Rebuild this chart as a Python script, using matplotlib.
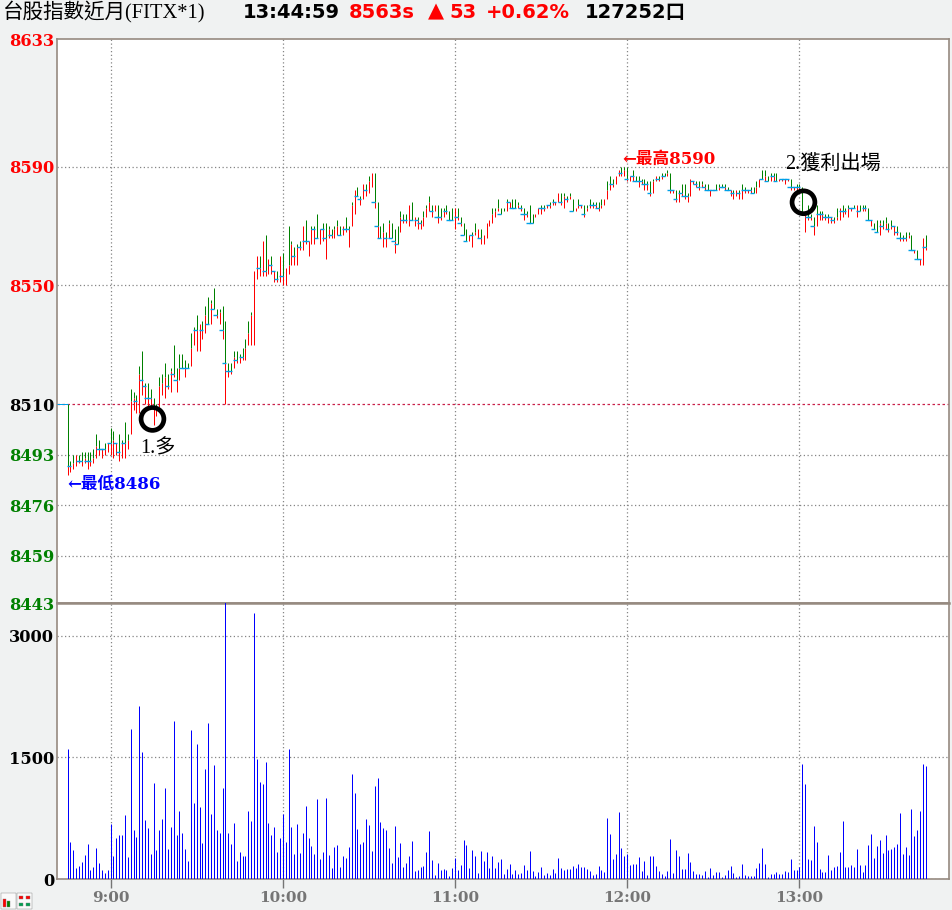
"""Taiwan index futures one-minute chart with volume panel."""

import matplotlib
matplotlib.use("Agg")
import matplotlib.pyplot as plt
from matplotlib.patches import Rectangle
import numpy as np

highs = [
    8510, 8491, 8493, 8493, 8493, 8494, 8494, 8494, 8494, 8495,
    8500, 8498, 8495, 8497, 8497, 8502, 8501, 8497, 8500, 8498,
    8504, 8500, 8515, 8514, 8513, 8523, 8528, 8517, 8517, 8515,
    8512, 8510, 8519, 8520, 8524, 8520, 8522, 8530, 8522, 8527,
    8527, 8525, 8524, 8534, 8536, 8540, 8537, 8538, 8543, 8546,
    8545, 8549, 8542, 8542, 8543, 8538, 8524, 8524, 8528, 8528,
    8527, 8529, 8532, 8538, 8541, 8555, 8560, 8560, 8565, 8567,
    8559, 8560, 8555, 8555, 8560, 8561, 8556, 8570, 8565, 8563,
    8564, 8565, 8570, 8572, 8565, 8570, 8570, 8574, 8569, 8571,
    8571, 8570, 8569, 8570, 8572, 8570, 8570, 8573, 8570, 8578,
    8582, 8583, 8580, 8584, 8584, 8587, 8588, 8588, 8578, 8570,
    8571, 8568, 8572, 8571, 8569, 8570, 8575, 8574, 8574, 8577,
    8578, 8573, 8573, 8572, 8575, 8577, 8580, 8577, 8577, 8577,
    8576, 8576, 8577, 8575, 8576, 8576, 8576, 8573, 8571, 8569,
    8567, 8568, 8571, 8569, 8569, 8567, 8571, 8572, 8576, 8576,
    8579, 8576, 8576, 8579, 8578, 8579, 8579, 8578, 8577, 8576,
    8575, 8577, 8574, 8574, 8576, 8577, 8577, 8577, 8578, 8579,
    8578, 8581, 8581, 8581, 8580, 8581, 8579, 8576, 8579, 8577,
    8577, 8577, 8579, 8578, 8578, 8578, 8579, 8579, 8585, 8587,
    8586, 8587, 8589, 8590, 8590, 8590, 8587, 8589, 8587, 8587,
    8586, 8586, 8585, 8585, 8586, 8587, 8587, 8588, 8588, 8589,
    8588, 8582, 8582, 8582, 8584, 8584, 8581, 8586, 8585, 8585,
    8585, 8585, 8584, 8584, 8582, 8582, 8584, 8584, 8584, 8584,
    8583, 8582, 8582, 8582, 8582, 8584, 8583, 8582, 8583, 8583,
    8585, 8586, 8589, 8589, 8587, 8588, 8588, 8588, 8586, 8586,
    8586, 8586, 8586, 8583, 8584, 8584, 8583, 8574, 8577, 8574,
    8573, 8577, 8575, 8575, 8574, 8574, 8573, 8573, 8576, 8576,
    8577, 8576, 8577, 8576, 8577, 8577, 8577, 8577, 8577, 8576,
    8572, 8571, 8572, 8572, 8572, 8573, 8571, 8572, 8570, 8570,
    8568, 8567, 8568, 8568, 8567, 8562, 8562, 8559, 8566, 8567,
]
pivots = [
    8489, 8489, 8490, 8493, 8491, 8491, 8492, 8491, 8491, 8492,
    8496, 8495, 8495, 8495, 8497, 8497, 8498, 8497, 8494, 8497,
    8497, 8498, 8511, 8512, 8511, 8520, 8518, 8516, 8512, 8512,
    8509, 8509, 8516, 8517, 8519, 8516, 8521, 8520, 8518, 8522,
    8522, 8522, 8522, 8529, 8535, 8535, 8537, 8535, 8540, 8537,
    8544, 8542, 8540, 8541, 8535, 8524, 8521, 8521, 8526, 8525,
    8526, 8526, 8529, 8534, 8540, 8555, 8560, 8556, 8565, 8555,
    8559, 8557, 8555, 8552, 8560, 8553, 8556, 8557, 8564, 8560,
    8563, 8563, 8570, 8565, 8565, 8569, 8569, 8566, 8569, 8569,
    8566, 8569, 8567, 8569, 8570, 8567, 8570, 8569, 8569, 8577,
    8582, 8580, 8579, 8584, 8582, 8585, 8588, 8578, 8570, 8566,
    8568, 8566, 8571, 8566, 8565, 8564, 8573, 8572, 8572, 8577,
    8572, 8573, 8572, 8571, 8573, 8576, 8578, 8575, 8577, 8573,
    8573, 8575, 8575, 8572, 8572, 8576, 8573, 8571, 8567, 8565,
    8567, 8567, 8568, 8569, 8566, 8567, 8571, 8572, 8574, 8575,
    8576, 8574, 8575, 8578, 8578, 8576, 8576, 8577, 8576, 8574,
    8574, 8571, 8571, 8574, 8576, 8576, 8576, 8577, 8577, 8578,
    8578, 8581, 8578, 8580, 8579, 8580, 8575, 8576, 8577, 8577,
    8574, 8576, 8577, 8577, 8577, 8576, 8577, 8579, 8582, 8584,
    8584, 8587, 8589, 8588, 8589, 8586, 8587, 8587, 8585, 8585,
    8585, 8584, 8584, 8581, 8585, 8587, 8586, 8587, 8587, 8588,
    8582, 8582, 8579, 8581, 8581, 8580, 8580, 8586, 8585, 8584,
    8583, 8584, 8583, 8582, 8582, 8582, 8582, 8583, 8583, 8583,
    8582, 8582, 8581, 8582, 8581, 8582, 8582, 8582, 8582, 8581,
    8583, 8586, 8586, 8587, 8585, 8587, 8587, 8585, 8586, 8586,
    8586, 8586, 8583, 8583, 8583, 8583, 8574, 8574, 8573, 8573,
    8570, 8574, 8574, 8574, 8573, 8573, 8573, 8572, 8573, 8576,
    8575, 8575, 8576, 8576, 8576, 8577, 8575, 8576, 8576, 8572,
    8572, 8569, 8568, 8571, 8570, 8571, 8569, 8570, 8570, 8568,
    8566, 8566, 8566, 8567, 8562, 8562, 8559, 8559, 8566, 8563,
]
lows = [
    8486, 8487, 8488, 8489, 8490, 8489, 8490, 8488, 8489, 8490,
    8492, 8493, 8492, 8493, 8494, 8493, 8492, 8493, 8491, 8492,
    8492, 8495, 8500, 8508, 8507, 8507, 8513, 8510, 8509, 8509,
    8503, 8506, 8509, 8513, 8512, 8515, 8514, 8519, 8514, 8518,
    8522, 8519, 8522, 8523, 8530, 8528, 8528, 8532, 8534, 8537,
    8537, 8542, 8539, 8537, 8532, 8510, 8519, 8520, 8522, 8524,
    8524, 8525, 8525, 8530, 8530, 8530, 8552, 8553, 8553, 8553,
    8554, 8554, 8551, 8551, 8551, 8550, 8550, 8554, 8557, 8557,
    8557, 8562, 8562, 8564, 8560, 8564, 8564, 8566, 8564, 8565,
    8559, 8566, 8566, 8566, 8567, 8567, 8567, 8568, 8563, 8570,
    8574, 8580, 8577, 8579, 8580, 8581, 8583, 8576, 8566, 8566,
    8563, 8563, 8566, 8566, 8561, 8564, 8568, 8571, 8571, 8570,
    8572, 8570, 8569, 8569, 8570, 8573, 8575, 8573, 8575, 8571,
    8572, 8573, 8574, 8572, 8572, 8569, 8572, 8570, 8567, 8565,
    8565, 8563, 8567, 8566, 8564, 8564, 8566, 8570, 8571, 8573,
    8575, 8574, 8575, 8575, 8576, 8576, 8578, 8576, 8575, 8572,
    8573, 8571, 8571, 8573, 8574, 8574, 8575, 8576, 8576, 8577,
    8577, 8578, 8577, 8576, 8578, 8579, 8575, 8575, 8576, 8576,
    8573, 8575, 8576, 8576, 8576, 8575, 8576, 8577, 8579, 8582,
    8583, 8584, 8587, 8587, 8587, 8585, 8585, 8585, 8585, 8583,
    8584, 8582, 8582, 8580, 8581, 8585, 8585, 8586, 8587, 8587,
    8581, 8581, 8578, 8578, 8580, 8579, 8578, 8580, 8584, 8583,
    8582, 8583, 8582, 8582, 8580, 8582, 8582, 8582, 8583, 8582,
    8582, 8580, 8579, 8580, 8579, 8579, 8581, 8581, 8581, 8581,
    8581, 8583, 8586, 8585, 8585, 8585, 8585, 8585, 8585, 8585,
    8584, 8585, 8582, 8582, 8582, 8582, 8574, 8568, 8572, 8572,
    8567, 8570, 8572, 8572, 8572, 8571, 8571, 8571, 8572, 8572,
    8573, 8574, 8573, 8575, 8576, 8573, 8575, 8575, 8575, 8572,
    8570, 8569, 8568, 8567, 8569, 8569, 8568, 8569, 8567, 8567,
    8565, 8565, 8565, 8566, 8562, 8561, 8559, 8557, 8557, 8562,
]
volumes = [
    1602, 462, 363, 140, 165, 215, 300, 438, 116, 153,
    388, 202, 116, 78, 116, 673, 289, 512, 537, 549,
    785, 277, 1850, 611, 524, 2135, 1565, 723, 624, 314,
    1181, 363, 611, 735, 1119, 376, 648, 1949, 549, 834,
    562, 376, 227, 1838, 933, 1664, 884, 450, 1355, 1925,
    797, 1404, 599, 562, 1119, 3424, 562, 438, 686, 227,
    339, 289, 289, 834, 710, 3287, 1478, 1194, 1169, 1441,
    686, 537, 636, 339, 512, 797, 462, 1602, 648, 314,
    673, 326, 562, 896, 500, 413, 314, 983, 252, 335,
    994, 298, 137, 397, 422, 149, 286, 261, 397, 1292,
    1056, 621, 435, 460, 745, 671, 348, 1143, 1242, 708,
    634, 609, 385, 199, 658, 273, 447, 149, 199, 286,
    472, 99, 112, 149, 161, 335, 596, 236, 50, 199,
    112, 124, 112, 37, 137, 261, 112, 174, 484, 422,
    137, 360, 286, 75, 348, 224, 335, 137, 286, 137,
    211, 248, 62, 124, 186, 62, 112, 62, 75, 174,
    112, 348, 99, 37, 87, 149, 50, 75, 50, 124,
    75, 261, 137, 112, 124, 124, 161, 137, 186, 149,
    149, 124, 99, 50, 62, 161, 112, 87, 758, 559,
    248, 310, 832, 385, 286, 310, 174, 186, 186, 273,
    99, 224, 50, 286, 286, 161, 99, 62, 37, 99,
    497, 75, 360, 286, 124, 124, 323, 211, 99, 62,
    62, 50, 99, 25, 137, 50, 87, 87, 25, 50,
    112, 161, 75, 25, 37, 186, 50, 37, 37, 37,
    137, 199, 385, 186, 25, 62, 62, 87, 62, 62,
    99, 87, 248, 112, 112, 149, 1416, 1167, 248, 236,
    658, 460, 124, 87, 87, 298, 112, 149, 161, 335,
    720, 149, 149, 174, 149, 372, 174, 87, 174, 422,
    559, 261, 410, 484, 323, 546, 360, 372, 397, 435,
    820, 310, 397, 298, 869, 534, 609, 845, 1416, 1391,
]
price_ticks = [8633, 8590, 8550, 8510, 8493, 8476, 8459, 8443]
price_tick_colors = ["#ff0000", "#ff0000", "#ff0000", "#000000", "#008000", "#008000", "#008000", "#008000"]
volume_ticks = [0, 1500, 3000]
hour_ticks = [15, 75, 135, 195, 255]
hour_labels = ["9:00", "10:00", "11:00", "12:00", "13:00"]
trade_entry = (29.6, 8505)
trade_exit = (256.4, 8578)

W, H = 953, 910
BG = "#f0f2f2"
EDGE = "#968a80"
GRID = "#858585"
BAR_LW = 0.72
SERIF_BOLD = dict(family=["DejaVu Serif", "Noto Sans CJK TC"], weight="bold")
LABEL_FONT = ["Liberation Serif", "Noto Sans CJK TC"]


def panel(fig, left, top, right, bottom):
    return fig.add_axes([left / W, 1 - bottom / H, (right - left) / W, (bottom - top) / H])


def put(fig, x, y, text, **kw):
    # x, y are in picture pixels, text is anchored left-centre
    fig.text(x / W, 1 - y / H, text, ha="left", va="center", **kw)


def style_axis(ax, ticks, labels, colors):
    ax.set_xlim(-3.66, 307.1)
    ax.set_xticks(hour_ticks)
    ax.set_yticks(ticks)
    ax.set_yticklabels(labels, fontsize=11.7, va="center_baseline", **SERIF_BOLD)
    for lab, col in zip(ax.get_yticklabels(), colors):
        lab.set_color(col)
    ax.tick_params(axis="y", length=0, pad=2)
    ax.grid(True, color=GRID, linestyle=(0, (1, 2)), linewidth=0.9)
    ax.set_axisbelow(True)
    for spine in ax.spines.values():
        spine.set_color(EDGE)
        spine.set_linewidth(1.2)


def crisp(coll):
    coll.set_snap(True)
    return coll


def main() -> None:
    fig = plt.figure(figsize=(W / 100, H / 100), dpi=100, facecolor=BG)
    idx = np.arange(len(highs))
    hi, pv, lo = np.array(highs), np.array(pivots), np.array(lows)

    ax = panel(fig, 57, 39, 949, 603)
    ax.set_ylim(8443, 8633)
    style_axis(ax, price_ticks, [str(v) for v in price_ticks], price_tick_colors)
    ax.tick_params(axis="x", length=0, labelbottom=False)
    for tick, line in zip(price_ticks, ax.get_ygridlines()):
        if tick in (8633, 8443):
            line.set_visible(False)
        if tick == 8510:
            line.set_color("#c8204a")
            line.set_linestyle((0, (2, 2)))

    crisp(ax.vlines(idx, lo, pv, color="#ff0000", linewidth=BAR_LW, zorder=3))
    crisp(ax.vlines(idx, pv, hi, color="#008000", linewidth=BAR_LW, zorder=3))
    # close ticks: cyan on the left of a bar whose pivot did not rise
    falling = np.r_[False, pv[1:] <= pv[:-1]]
    ax.plot(idx[falling] - 0.5, pv[falling], linestyle="none", marker="_", markersize=3.2,
            markeredgewidth=1.0, color="#00a0e8", zorder=4)
    crisp(ax.hlines(8510, -3.66, 0, color="#00a0e8", linewidth=BAR_LW, zorder=4))

    for x, y in (trade_entry, trade_exit):
        ax.scatter([x], [y], s=270, facecolors="none", edgecolors="black", linewidths=3.4, zorder=6)

    vol = panel(fig, 57, 603, 949, 879)
    vol.set_ylim(0, 3407)
    style_axis(vol, volume_ticks, [str(v) for v in volume_ticks], ["black"] * 3)
    crisp(vol.vlines(idx, 0, volumes, color="#0000ff", linewidth=BAR_LW, zorder=3))
    vol.set_xticklabels(hour_labels, fontsize=11, color="#757575", **SERIF_BOLD)
    vol.tick_params(axis="x", length=6.5, width=1, color="#757575", pad=2)
    vol.spines["top"].set_linewidth(1.8)

    put(fig, 3, 12, "台股指數近月(FITX*1)", fontsize=14.8, family=LABEL_FONT)
    head = dict(fontsize=14, weight="bold", family=["DejaVu Sans", "Noto Sans CJK TC"])
    put(fig, 243, 12, "13:44:59", color="black", **head)
    put(fig, 349, 12, "8563s", color="#ff0000", **head)
    put(fig, 428, 11, "▲", color="#ff0000", fontsize=15, weight="bold")
    put(fig, 449, 12, "53", color="#ff0000", **head)
    put(fig, 486, 12, "+0.62%", color="#ff0000", **head)
    put(fig, 585, 12, "127252口", color="black", **head)

    put(fig, 622, 159, "←最高8590", color="#ff0000", fontsize=12, **SERIF_BOLD)
    put(fig, 67, 485, "←最低8486", color="#0000ff", fontsize=12, **SERIF_BOLD)
    put(fig, 140, 449, "1.多", color="black", fontsize=14.5, family=LABEL_FONT)
    put(fig, 785, 165, "2.獲利出場", color="black", fontsize=14.5, family=LABEL_FONT)

    # toolbar icon in the bottom left corner
    icon = [(1, 893, 15, 16, "#fafafa"), (17, 893, 15, 16, "#fafafa"), (3, 899, 3, 8, "#ff0000"),
            (7, 901, 3, 6, "#008000"), (19, 896, 4, 3, "#ff0000"), (26, 896, 4, 3, "#ff0000"),
            (19, 903, 4, 3, "#00a050"), (26, 903, 4, 3, "#00a050")]
    for x, y, w, h, col in icon:
        fig.add_artist(Rectangle((x / W, 1 - (y + h) / H), w / W, h / H, transform=fig.transFigure,
                                 facecolor=col, edgecolor="#808080", linewidth=0.3))

    fig.savefig("out.png", dpi=100, facecolor=BG)


if __name__ == "__main__":
    main()
